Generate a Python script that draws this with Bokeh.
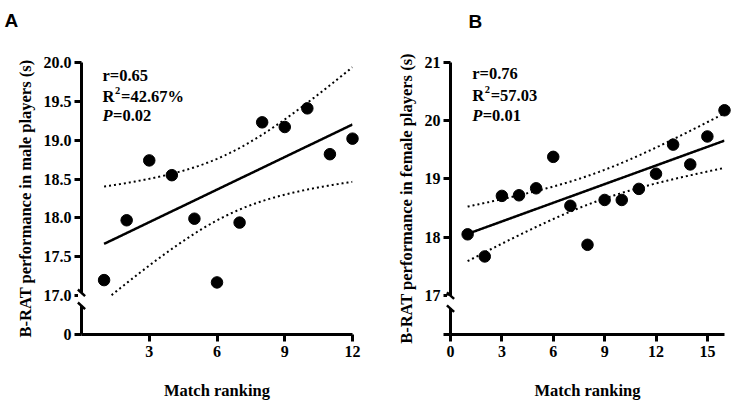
import numpy as np
from bokeh.plotting import figure
from bokeh.layouts import row
from bokeh.models import FixedTicker, PrintfTickFormatter, Label
from bokeh.core.properties import value
from bokeh.embed import file_html
from bokeh.resources import INLINE

# ---- data -------------------------------------------------------------
male_rank = [1, 2, 3, 4, 5, 6, 7, 8, 9, 10, 11, 12]
male_brat = [17.20, 17.97, 18.74, 18.55, 17.99, 17.17, 17.94, 19.23, 19.17, 19.41, 18.82, 19.02]
male_r = "r=0.65"
male_r2 = "=42.67%"
male_p = "=0.02"

female_rank = [1, 2, 3, 4, 5, 6, 7, 8, 9, 10, 11, 12, 13, 14, 15, 16]
female_brat = [18.05, 17.67, 18.71, 18.72, 18.84, 19.38, 18.54, 17.87,
               18.64, 18.64, 18.83, 19.09, 19.59, 19.25, 19.73, 20.18]
female_r = "r=0.76"
female_r2 = "=57.03"
female_p = "=0.01"

male_yticks = [17.0, 17.5, 18.0, 18.5, 19.0, 19.5, 20.0]
female_yticks = [17, 18, 19, 20, 21]
male_xticks = [3, 6, 9, 12]
female_xticks = [0, 3, 6, 9, 12, 15]

# two-sided 95% Student t quantiles by degrees of freedom
T975 = {10: 2.228, 14: 2.145}

SERIF = "Liberation Serif"
SANS = "Liberation Sans"


def fit_with_band(x, y):
    x = np.asarray(x, float)
    y = np.asarray(y, float)
    n = len(x)
    slope, icept = np.polyfit(x, y, 1)
    resid = y - (icept + slope * x)
    s = np.sqrt((resid ** 2).sum() / (n - 2))
    xm = x.mean()
    sxx = ((x - xm) ** 2).sum()
    xs = np.linspace(x.min(), x.max(), 300)
    yhat = icept + slope * xs
    half = T975[n - 2] * s * np.sqrt(1.0 / n + (xs - xm) ** 2 / sxx)
    return xs, yhat, yhat + half, yhat - half


def panel(cfg):
    fig_w, fig_h = cfg["size"]
    fl, ft, fw, fh = cfg["frame"]
    x0, x1 = cfg["xr"]
    y0, y1 = cfg["yr"]

    def to_x(px):
        return x0 + (px - fl) * (x1 - x0) / fw

    def to_y(py):
        return y1 - (py - ft) * (y1 - y0) / fh

    p = figure(width=fig_w, height=fig_h, x_range=(x0, x1), y_range=(y0, y1),
               output_backend="svg", toolbar_location=None,
               min_border_left=fl, min_border_right=fig_w - fl - fw,
               min_border_top=ft, min_border_bottom=fig_h - ft - fh)
    p.outline_line_color = None
    p.grid.visible = False
    p.background_fill_color = "white"
    p.border_fill_color = "white"

    for ax in (p.xaxis[0], p.yaxis[0]):
        ax.axis_line_width = 3
        ax.axis_line_color = "black"
        ax.major_tick_line_width = 3
        ax.major_tick_line_color = "black"
        ax.major_tick_out = 7
        ax.major_tick_in = 0
        ax.minor_tick_line_color = None
        ax.major_label_text_font = SERIF
        ax.major_label_text_font_style = "bold"
        ax.major_label_text_font_size = "16px"
        ax.major_label_text_color = "black"
        ax.axis_label_text_font = SERIF
        ax.axis_label_text_font_style = "bold"
        ax.axis_label_text_font_size = "16.5px"
        ax.axis_label_text_color = "black"

    xa = p.xaxis[0]
    xa.ticker = FixedTicker(ticks=cfg["xticks"])
    xa.axis_label = "Match ranking"
    xa.major_label_standoff = 4
    xa.axis_label_standoff = 21

    ya = p.yaxis[0]
    ya.ticker = FixedTicker(ticks=[y0] + cfg["yticks"])
    ya.formatter = PrintfTickFormatter(format=cfg["yfmt"])
    ya.major_label_overrides = {y0: cfg["floor_label"]}
    ya.axis_label = cfg["ylabel"]
    ya.major_label_standoff = 3
    ya.axis_label_standoff = 6

    # confidence band, clipped at the axis break
    xs, yhat, up, lo = fit_with_band(cfg["x"], cfg["y"])
    brk = cfg["yticks"][0]
    keep_up = up >= brk
    keep_lo = lo >= brk
    p.line(xs[keep_up], up[keep_up], line_color="black", line_width=2,
           line_dash="2 3")
    p.line(xs[keep_lo], lo[keep_lo], line_color="black", line_width=2,
           line_dash="2 3")
    p.line(xs, yhat, line_color="black", line_width=2.5)

    p.scatter(cfg["x"], cfg["y"], size=11.5, color="black", level="overlay")

    # axis break on the y axis
    bc = cfg["break_px"]
    p.segment(x0=[x0], y0=[to_y(bc - 6.5)], x1=[x0], y1=[to_y(bc + 6.5)],
              line_color="white", line_width=7, level="overlay")
    for cy in (bc - 6.5, bc + 6.5):
        p.segment(x0=[to_x(fl - 3.6)], y0=[to_y(cy - 3.3)],
                  x1=[to_x(fl + 3.6)], y1=[to_y(cy + 3.3)],
                  line_color="black", line_width=2.5, level="overlay")

    # statistics block
    tx, b1, b2, b3 = cfg["stats_px"]
    common = dict(text_font=SERIF, text_font_style="bold", text_font_size="16.5px",
                  text_color="black", text_baseline="alphabetic", text_align="left",
                  level="overlay")
    p.add_layout(Label(x=to_x(tx), y=to_y(b1), text=cfg["r"], **common))
    p.add_layout(Label(x=to_x(tx), y=to_y(b2), text="R", **common))
    p.add_layout(Label(x=to_x(tx), y=to_y(b2), x_offset=12.5, y_offset=6, text="2",
                       text_font=SERIF, text_font_style="bold", text_font_size="10.5px",
                       text_color="black", text_baseline="alphabetic", level="overlay"))
    p.add_layout(Label(x=to_x(tx), y=to_y(b2), x_offset=18.5, text=cfg["r2"], **common))
    p.add_layout(Label(x=to_x(tx), y=to_y(b3), text="P",
                       text_font=SERIF, text_font_style="bold italic", text_font_size="16.5px",
                       text_color="black", text_baseline="alphabetic", level="overlay"))
    p.add_layout(Label(x=to_x(tx), y=to_y(b3), x_offset=10.5, text=cfg["p"], **common))

    # panel letter in the top-left margin (glyph at overlay level, not clipped)
    lx, ly = cfg["letter_px"]
    p.text(x=[to_x(lx)], y=[to_y(ly)], text=[cfg["letter"]],
           text_font=value(SANS), text_font_style="bold", text_font_size="19px",
           text_color="black", text_baseline="alphabetic", text_align="left",
           level="overlay")
    return p


panel_a = panel(dict(
    size=(366, 402), frame=(81, 62, 271, 272), xr=(0, 12), yr=(16.5, 20.0),
    xticks=male_xticks, yticks=male_yticks, yfmt="%.1f", floor_label="0",
    ylabel="B-RAT performance in male players (s)",
    x=male_rank, y=male_brat, r=male_r, r2=male_r2, p=male_p,
    break_px=298.8, stats_px=(102, 75, 96, 115), letter="A", letter_px=(4, 20),
))

panel_b = panel(dict(
    size=(367, 402), frame=(84, 61, 274, 273), xr=(0, 16), yr=(16.33, 21.0),
    xticks=female_xticks, yticks=female_yticks, yfmt="%.0f", floor_label="",
    ylabel="B-RAT performance in female players (s)",
    x=female_rank, y=female_brat, r=female_r, r2=female_r2, p=female_p,
    break_px=301.5, stats_px=(105.7, 72, 94, 114), letter="B", letter_px=(102, 20),
))

p = row(panel_a, panel_b)
open("out.html", "w").write(file_html(p, INLINE))
